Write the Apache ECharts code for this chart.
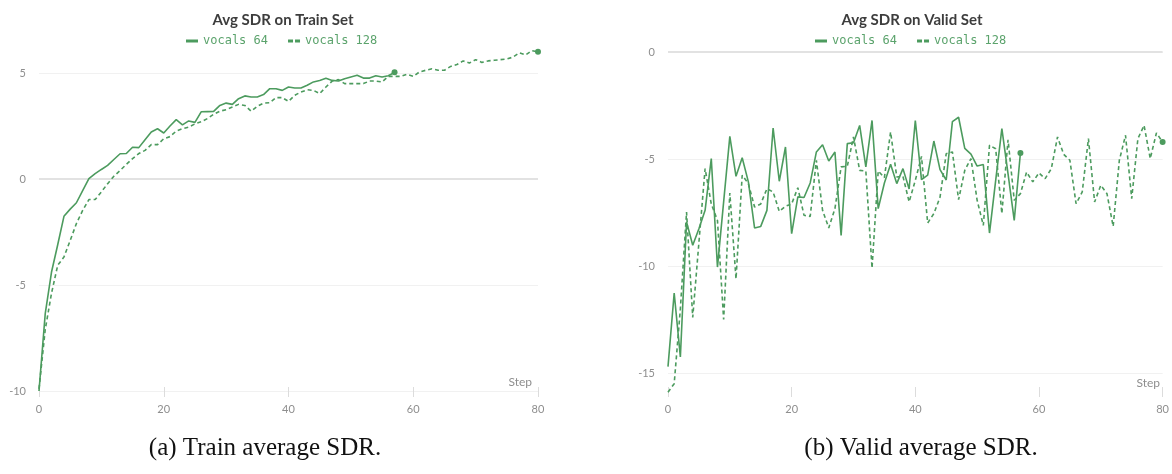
<!DOCTYPE html>
<html>
<head>
<meta charset="utf-8">
<script src="https://cdn.jsdelivr.net/npm/echarts@6/dist/echarts.min.js"></script>
<style>
  html, body { margin: 0; padding: 0; background: #fff; }
  #chart { width: 1172px; height: 474px; }
</style>
</head>
<body>
<div id="chart"></div>
<script>
// Average SDR per evaluation step, one entry per step starting at 0
const train64 = [-10.0, -6.35, -4.4, -3.1, -1.76, -1.42, -1.12, -0.55, 0.02, 0.25,
  0.45, 0.64, 0.92, 1.19, 1.2, 1.5, 1.48, 1.85, 2.22, 2.37,
  2.17, 2.5, 2.8, 2.55, 2.74, 2.67, 3.17, 3.18, 3.19, 3.47,
  3.58, 3.52, 3.79, 3.92, 3.87, 3.87, 3.98, 4.26, 4.26, 4.18,
  4.34, 4.29, 4.29, 4.42, 4.58, 4.65, 4.75, 4.65, 4.62, 4.73,
  4.81, 4.89, 4.76, 4.76, 4.87, 4.81, 4.87, 5.03];

const train128 = [-9.9, -7.1, -5.4, -4.07, -3.68, -2.9, -2.1, -1.48, -0.97, -0.97,
  -0.61, -0.22, 0.13, 0.4, 0.69, 0.96, 1.2, 1.35, 1.62, 1.62,
  1.9, 2.0, 2.26, 2.37, 2.45, 2.6, 2.7, 2.85, 3.05, 3.2,
  3.27, 3.4, 3.52, 3.47, 3.2, 3.43, 3.58, 3.6, 3.84, 3.84,
  3.66, 3.95, 4.1, 4.21, 4.18, 4.03, 4.34, 4.62, 4.69, 4.5,
  4.5, 4.5, 4.5, 4.62, 4.62, 4.58, 4.84, 4.84, 4.84, 4.94,
  4.84, 5.05, 5.13, 5.2, 5.13, 5.13, 5.31, 5.4, 5.57, 5.47,
  5.63, 5.5, 5.57, 5.6, 5.63, 5.66, 5.75, 5.95, 5.85, 6.05,
  6.0];

const valid64 = [-14.7, -11.26, -14.25, -7.94, -9.03, -8.26, -7.4, -4.98, -10.05, -7.0,
  -3.94, -5.81, -4.94, -6.07, -8.22, -8.15, -7.4, -3.55, -6.04, -4.44,
  -8.49, -6.77, -6.8, -6.12, -4.67, -4.33, -5.09, -4.67, -8.57, -4.28,
  -4.24, -3.43, -5.37, -3.2, -7.32, -6.12, -5.25, -6.15, -5.45, -6.4,
  -3.2, -5.96, -5.75, -4.16, -5.5, -5.98, -3.25, -3.05, -4.5, -4.77,
  -5.33, -5.26, -8.46, -6.0, -3.58, -5.7, -7.87, -4.72];

const valid128 = [-15.9, -15.5, -12.0, -7.48, -12.4, -8.9, -5.45, -7.1, -7.87, -12.5,
  -6.59, -10.6, -5.76, -6.15, -7.24, -7.1, -6.39, -6.54, -7.45, -7.21,
  -7.1, -6.34, -7.63, -7.68, -5.06, -7.4, -8.22, -7.32, -5.37, -5.34,
  -3.97, -5.53, -5.56, -10.1, -5.56, -5.87, -3.74, -5.84, -5.81, -7.0,
  -6.0, -4.88, -7.99, -7.55, -6.78, -4.75, -4.67, -6.9, -5.53, -4.98,
  -6.93, -8.1, -4.36, -4.52, -7.55, -4.1, -6.93, -6.62, -5.61, -6.07,
  -5.65, -5.92, -5.45, -3.97, -4.78, -5.06, -7.09, -6.54, -4.05, -7.01,
  -6.23, -6.62, -8.15, -5.06, -3.89, -6.85, -4.05, -3.43, -4.98, -3.78,
  -4.21];

const seriesNames = ['vocals 64', 'vocals 128'];
const panelTitles = ['Avg SDR on Train Set', 'Avg SDR on Valid Set'];
const captions = ['(a) Train average SDR.', '(b) Valid average SDR.'];
const xTicks = { min: 0, max: 80, interval: 20 };
const yRanges = [{ min: -10, max: 5 }, { min: -15, max: 0 }];

const GREEN = '#4c9b5e';
const LEGEND_GREEN = '#5ba36c';
const TICK_GRAY = '#8e8e8e';
const UI_FONT = 'Lato, "Noto Sans", sans-serif';

const toPairs = arr => arr.map((v, i) => [i, v]);

// only the final point of each run gets a dot
const endDot = len => (v, p) => (p.dataIndex === len - 1 ? 6 : 0);

function lineSeries(name, values, axisIdx, dashed, withZero) {
  const s = {
    name: name,
    type: 'line',
    xAxisIndex: axisIdx,
    yAxisIndex: axisIdx,
    data: toPairs(values),
    symbol: 'circle',
    symbolSize: endDot(values.length),
    showSymbol: true,
    clip: false,
    silent: true,
    animation: false,
    itemStyle: { color: GREEN },
    lineStyle: { color: GREEN, width: 1.6, type: dashed ? [4, 3] : 'solid' },
    z: dashed ? 3 : 4
  };
  if (withZero) {
    s.markLine = {
      silent: true,
      symbol: 'none',
      label: { show: false },
      lineStyle: { color: '#e2e2e2', width: 2, type: 'solid' },
      data: [{ yAxis: 0 }],
      z: 1
    };
  }
  return s;
}

const grids = [
  { left: 39, right: 634, top: 73, bottom: 83 },
  { left: 668, right: 6, top: 52, bottom: 101 }
];
const xOffsets = [6, 24];
const panelCenters = [278, 907];

const legendIcons = [
  'path://M0,0H12V3H0Z',
  'path://M0,0H5V3H0ZM7,0H12V3H7Z'
];

const option = {
  backgroundColor: '#ffffff',
  animation: false,
  title: panelTitles.map((t, i) => ({
    text: t,
    left: panelCenters[i],
    top: 8,
    textAlign: 'center',
    textStyle: { fontFamily: UI_FONT, fontSize: 15, fontWeight: 'bold', color: '#3d3d3d' }
  })),
  legend: [0, 1].map(i => ({
    left: panelCenters[i] - 97,
    top: 30,
    orient: 'horizontal',
    itemWidth: 12,
    itemHeight: 3,
    itemGap: 20,
    textStyle: { fontFamily: '"DejaVu Sans Mono", monospace', fontSize: 12, color: LEGEND_GREEN },
    data: seriesNames.map((n, k) => ({ name: n, icon: legendIcons[k], itemStyle: { color: GREEN } })),
    selectedMode: false
  })),
  grid: grids,
  xAxis: grids.map((g, i) => ({
    type: 'value',
    gridIndex: i,
    min: xTicks.min,
    max: xTicks.max,
    interval: xTicks.interval,
    offset: xOffsets[i],
    axisLine: { show: false, onZero: false },
    axisTick: { show: true, inside: true, length: 10, lineStyle: { color: '#dcdcdc' } },
    axisLabel: { color: TICK_GRAY, fontFamily: UI_FONT, fontSize: 11, margin: 7 },
    splitLine: { show: false }
  })),
  yAxis: grids.map((g, i) => ({
    type: 'value',
    gridIndex: i,
    min: yRanges[i].min,
    max: yRanges[i].max,
    interval: 5,
    axisLine: { show: false, onZero: false },
    axisTick: { show: false },
    axisLabel: { color: TICK_GRAY, fontFamily: UI_FONT, fontSize: 11, margin: 13 },
    splitLine: { show: true, lineStyle: { color: '#f1f1f1', width: 1 } }
  })),
  series: [
    lineSeries(seriesNames[1], train128, 0, true, true),
    lineSeries(seriesNames[0], train64, 0, false, false),
    lineSeries(seriesNames[1], valid128, 1, true, true),
    lineSeries(seriesNames[0], valid64, 1, false, false)
  ],
  graphic: [
    { type: 'text', x: 532, y: 382, style: { text: 'Step', align: 'right', verticalAlign: 'middle', fill: TICK_GRAY, font: '12px ' + UI_FONT } },
    { type: 'text', x: 1160, y: 383, style: { text: 'Step', align: 'right', verticalAlign: 'middle', fill: TICK_GRAY, font: '12px ' + UI_FONT } },
    { type: 'text', x: 265, y: 448, style: { text: captions[0], align: 'center', verticalAlign: 'middle', fill: '#111', font: '25px "Liberation Serif", serif' } },
    { type: 'text', x: 921, y: 448, style: { text: captions[1], align: 'center', verticalAlign: 'middle', fill: '#111', font: '25px "Liberation Serif", serif' } }
  ]
};

const chart = echarts.init(document.getElementById('chart'), null, { renderer: 'canvas' });
chart.setOption(option);
</script>
</body>
</html>
